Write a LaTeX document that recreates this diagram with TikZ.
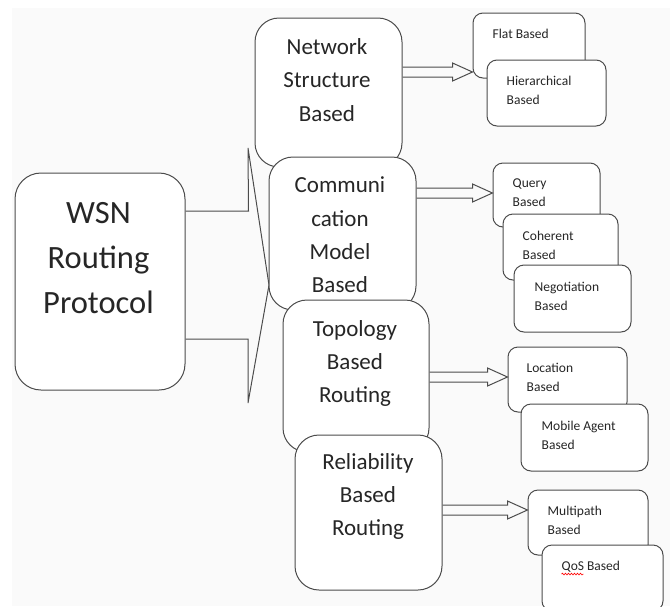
\documentclass[tikz,border=0pt]{standalone}
\usepackage{fontspec}
\setmainfont{Carlito}
\usepackage{tikz}
\usetikzlibrary{calc,positioning,decorations.pathmorphing}
\tikzset{%
	rootbox/.style   = {draw=black!70, fill=white, line width=1pt, rectangle, rounded corners=26pt, inner sep=0pt},
	classbox/.style  = {draw=black!70, fill=white, line width=1pt, rectangle, rounded corners=24pt, inner sep=0pt, minimum width=147pt},
	leafbox/.style   = {draw=black!70, fill=white, line width=1pt, rectangle, rounded corners=10pt, inner sep=0pt, minimum height=66pt},
	roottext/.style  = {align=center, inner sep=0pt, text=black!85, font=\fontsize{32.5}{45}\selectfont},
	classtext/.style = {align=center, inner sep=0pt, text=black!85, font=\fontsize{23}{33.3}\selectfont},
	leaftext/.style  = {align=left, anchor=north west, inner sep=0pt, text=black!85, font=\fontsize{13.5}{19}\selectfont},
	hollow/.style    = {draw=black!70, line width=1pt},
}
% shaft 10pt wide, head 18pt wide and 20pt long
\newcommand{\hollowarrow}[2]{%
	\draw[hollow] let \p1=#1, \p2=#2 in
	(\x1,\y1+5pt) -- (\x2-20pt,\y1+5pt) -- (\x2-20pt,\y1+9pt) -- (\x2,\y1)
	-- (\x2-20pt,\y1-9pt) -- (\x2-20pt,\y1-5pt) -- (\x1,\y1-5pt);}

\begin{document}
\begin{tikzpicture}[x=1pt,y=-1pt]
	\useasboundingbox (0,0) rectangle (670,606);
	\clip (0,0) rectangle (670,606);
	\fill[black!2] (12,8) rectangle (670,606);
	
	% root
	\node[rootbox, minimum width=170pt, minimum height=217pt] (wsn) at (100,281.5) {};
	\node[roottext] (wsn-t) at ([xshift=-1.5pt,yshift=23.5pt]wsn.center) {WSN\\Routing\\Protocol};
	\coordinate (split) at (269,285);
	\draw[hollow] ([yshift=70.5pt]wsn.east) -- ++(63,0) -- (248,148) -- (split)
	-- (248,403) -- (248,339) -- ([yshift=-57.5pt]wsn.east);
	
	% classes
	\node[classbox, minimum height=149pt] (net) at (328.5,92.5) {};
	\node[classtext] (net-t) at ([xshift=-1.5pt,yshift=12.5pt]net.center) {Network\\Structure\\Based};
	\node[classbox, minimum height=153pt] (comm) at (342.5,233.5) {};
	\node[classtext] (comm-t) at ([xshift=-2.5pt,yshift=-1.5pt]comm.center) {Communi\\cation\\Model\\Based};
	\node[classbox, minimum width=146pt, minimum height=152pt] (topo) at (356,376) {};
	\node[classtext] (topo-t) at ([xshift=-1pt,yshift=12.5pt]topo.center) {Topology\\Based\\Routing};
	\node[classbox, minimum height=155pt] (rel) at (368.5,512.5) {};
	\node[classtext] (rel-t) at ([xshift=-0.5pt,yshift=16pt]rel.center) {Reliability\\Based\\Routing};
	
	% leaves
	\node[leafbox, minimum width=112pt, minimum height=65pt] (flat) at (529,45.5) {};
	\node[leaftext] (flat-t) at ([xshift=20pt,yshift=-16pt]flat.north west) {Flat Based};
	\node[leafbox, minimum width=119pt] (hier) at (546.5,93) {};
	\node[leaftext] (hier-t) at ([xshift=20pt,yshift=-16pt]hier.north west) {Hierarchical\\Based};
	
	\node[leafbox, minimum width=107pt, minimum height=64pt] (query) at (546.5,195) {};
	\node[leaftext] (query-t) at ([xshift=20pt,yshift=-16pt]query.north west) {Query\\Based};
	\node[leafbox, minimum width=115pt] (coh) at (560.5,247) {};
	\node[leaftext] (coh-t) at ([xshift=20pt,yshift=-17pt]coh.north west) {Coherent\\Based};
	\node[leafbox, minimum width=117pt, minimum height=67pt] (neg) at (572.5,298.5) {};
	\node[leaftext] (neg-t) at ([xshift=21pt,yshift=-17pt]neg.north west) {Negotiation\\Based};
	
	\node[leafbox, minimum width=119pt, minimum height=65pt] (loc) at (567.5,379.5) {};
	\node[leaftext] (loc-t) at ([xshift=19pt,yshift=-16pt]loc.north west) {Location\\Based};
	\node[leafbox, minimum width=127pt, minimum height=67pt] (mob) at (584.5,437.5) {};
	\node[leaftext] (mob-t) at ([xshift=21pt,yshift=-17pt]mob.north west) {Mobile Agent\\Based};
	
	\node[leafbox, minimum width=120pt, minimum height=65pt] (multi) at (588,522.5) {};
	\node[leaftext] (multi-t) at ([xshift=20pt,yshift=-16pt]multi.north west) {Multipath\\Based};
	\node[leafbox, minimum width=121pt] (qos) at (602.5,578) {};
	\node[leaftext] (qos-t) at ([xshift=20pt,yshift=-16pt]qos.north west) {QoS Based};
	\draw[red, line width=0.6pt, decorate, decoration={snake, amplitude=0.9pt, segment length=3pt}]
	([yshift=-2pt]qos-t.south west) -- ++(22,0);
	
	% hollow arrows
	\hollowarrow{([yshift=20.5pt]net.east)}{(flat.west)}
	\hollowarrow{([yshift=40.5pt]comm.east)}{(query.west)}
	\hollowarrow{([yshift=-1pt]topo.east)}{(loc.west)}
	\hollowarrow{([yshift=2.5pt]rel.east)}{(multi.west)}
	
\end{tikzpicture}
\end{document}
